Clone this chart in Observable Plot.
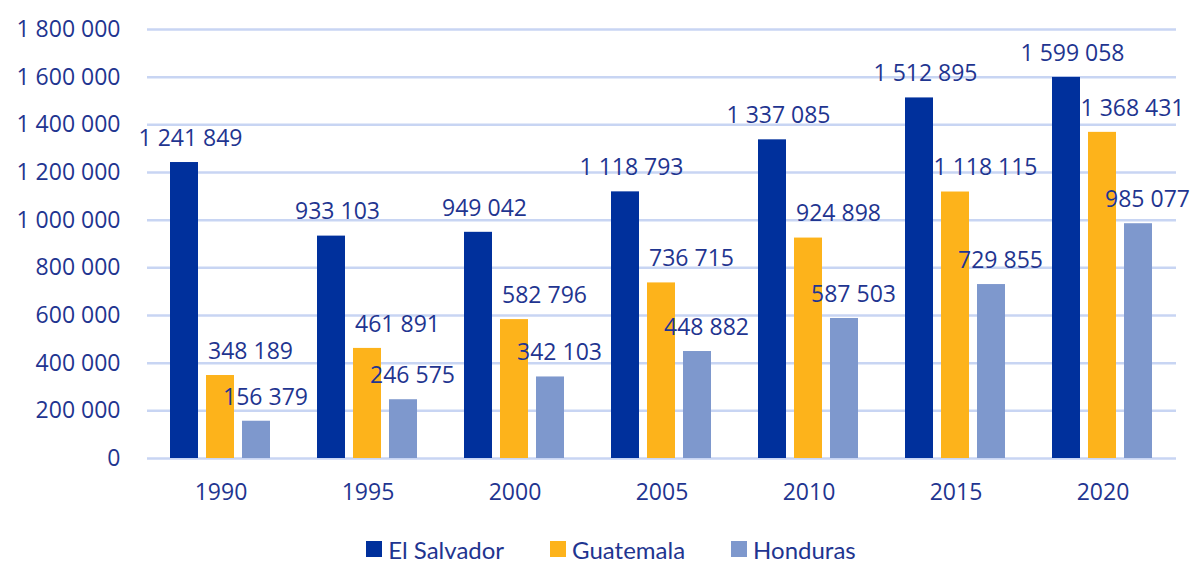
<!DOCTYPE html>
<html><head><meta charset="utf-8">
<script src="https://cdn.jsdelivr.net/npm/d3@7"></script>
<script src="https://cdn.jsdelivr.net/npm/@observablehq/plot@0.6"></script>
<style>
body{margin:0;background:#fff;font-family:"Open Sans",sans-serif;}
#legend{display:flex;justify-content:center;gap:46px;font-family:Lato,"Open Sans",sans-serif;font-size:24px;color:#1f3590;margin-left:30px;height:42px;align-items:center;padding-top:16px}
#legend span.item{display:flex;align-items:center;gap:6px}
#legend span.sw{display:inline-block;width:16px;height:16px}
</style></head><body>
<div id="chart"></div>
<div id="legend"></div>
<script>
const years = ["1990","1995","2000","2005","2010","2015","2020"];
const series = ["El Salvador","Guatemala","Honduras"];
const elSalvador = [1241849, 933103, 949042, 1118793, 1337085, 1512895, 1599058];
const guatemala = [348189, 461891, 582796, 736715, 924898, 1118115, 1368431];
const honduras = [156379, 246575, 342103, 448882, 587503, 729855, 985077];
const yTicks = [0,200000,400000,600000,800000,1000000,1200000,1400000,1600000,1800000];
const colors = ["#00309c","#fdb31b","#7e98cd"];
const textColor = "#1f3590";

const values = [elSalvador, guatemala, honduras];
const data = [];
series.forEach((s,i)=>years.forEach((y,j)=>data.push({year:y, series:s, value:values[i][j]})));
const fmt = d3.formatLocale({decimal:",", thousands:" ", grouping:[3]}).format(",d");
const labelDx = {"El Salvador":6,"Guatemala":30,"Honduras":9};

const chart = Plot.plot({
  width:1192, height:512,
  marginLeft:145, marginRight:15, marginTop:29, marginBottom:54,
  style:{fontFamily:"'Open Sans',sans-serif", fontSize:"23px", color:textColor, background:"#fff"},
  fx:{domain:years, padding:0, label:null, axis:null},
  x:{domain:series, axis:null, paddingInner:0.216, paddingOuter:0.6},
  y:{domain:[0,1800000], ticks:yTicks, label:null},
  color:{domain:series, range:colors},
  marks:[
    Plot.gridY(yTicks,{stroke:"#c8d5f3", strokeOpacity:1, strokeWidth:2.5}),
    Plot.axisY({ticks:yTicks, tickSize:0, tickPadding:27, tickFormat:fmt, fontSize:23, fill:textColor, label:null}),
    Plot.axisFx({anchor:"bottom", tickSize:0, tickPadding:25, fontSize:23, fill:textColor, label:null}),
    Plot.barY(data,{fx:"year", x:"series", y:"value", fill:"series"}),
    ...series.map(s=>Plot.text(data.filter(d=>d.series===s),{fx:"year", x:"series", y:"value", text:d=>fmt(d.value), dy:-24, dx:labelDx[s], fill:textColor, fontSize:23, lineAnchor:"middle"}))
  ]
});
document.getElementById("chart").appendChild(chart);
const lg = document.getElementById("legend");
series.forEach((s,i)=>{
  const it=document.createElement("span"); it.className="item";
  it.innerHTML=`<span class="sw" style="background:${colors[i]}"></span><span>${s}</span>`;
  lg.appendChild(it);
});
</script>
</body></html>
